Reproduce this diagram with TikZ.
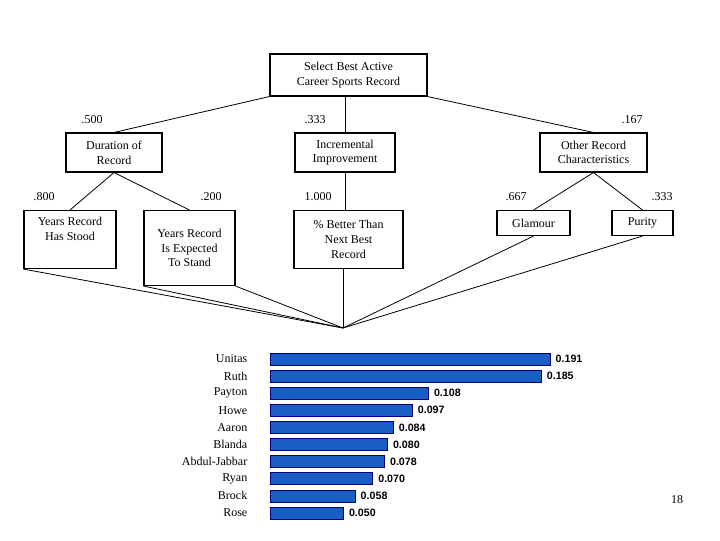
\documentclass[tikz,border=0pt]{standalone}
\usepackage{fontspec}
\setmainfont{Liberation Serif}
\newfontfamily\valfont{Liberation Sans}
\begin{document}
\begin{tikzpicture}[x=0.75pt,y=-0.75pt,
  box/.style={draw,thick,fill=white,inner sep=0pt,align=center,font=\fontsize{9}{11}\selectfont},
  wt/.style={font=\fontsize{9}{11}\selectfont},
  ln/.style={draw,semithick},
  bar/.style={draw=blue!50!black,fill={rgb,255:red,25;green,95;blue,195}},
  nm/.style={anchor=east,font=\fontsize{9}{11}\selectfont},
  val/.style={anchor=west,font=\valfont\bfseries\fontsize{8}{10}\selectfont}]
\useasboundingbox (0,0) rectangle (720,540);
\fill[white] (0,0) rectangle (720,540);
\node[box,minimum width=157*0.75pt,minimum height=42*0.75pt] (top) at (348.5,75) {Select Best Active\\Career Sports Record};
\node[box,minimum width=96*0.75pt,minimum height=39*0.75pt] (dur) at (114,152.5) {Duration of\\Record};
\node[box,minimum width=100*0.75pt,minimum height=39*0.75pt] (inc) at (345,152.5) {Incremental\\Improvement};
\node[box,minimum width=107*0.75pt,minimum height=39*0.75pt] (oth) at (593.5,152.5) {Other Record\\Characteristics};
\node[box,minimum width=92*0.75pt,minimum height=58*0.75pt,anchor=north] (ys) at (70,210) {\rule{0pt}{9pt}Years Record\\Has Stood\\[8pt]};
\node[box,minimum width=91*0.75pt,minimum height=75*0.75pt,anchor=north,align=center] (ye) at (189.5,210) {Years Record\\Is Expected\\To Stand};
\node[box,minimum width=109*0.75pt,minimum height=58*0.75pt,anchor=north] (pb) at (348.5,210) {\% Better Than\\Next Best\\Record};
\node[box,minimum width=73*0.75pt,minimum height=25*0.75pt,anchor=north] (gl) at (533.5,210) {Glamour};
\node[box,minimum width=61*0.75pt,minimum height=25*0.75pt,anchor=north] (pu) at (642.5,210) {Purity};
\coordinate (conv) at (343,328);
\draw[ln] (top.south west) -- (dur.north);
\draw[ln] (top.south) ++(-3.5,0) -- (inc.north);
\draw[ln] (top.south east) -- (oth.north);
\draw[ln] (dur.south) -- (ys.north);
\draw[ln] (dur.south) -- (ye.north);
\draw[ln] (inc.south) -- (inc.south |- pb.north);
\draw[ln] (oth.south) -- (gl.north);
\draw[ln] (oth.south) -- (pu.north);
\draw[ln] (ys.south west) -- (conv);
\draw[ln] (ye.south west) -- (conv);
\draw[ln] (ye.south east) -- (conv);
\draw[ln] (pb.south -| conv) -- (conv);
\draw[ln] (gl.south) -- (conv);
\draw[ln] (pu.south) -- (conv);
\node[wt] (w1) at (92,120) {.500};
\node[wt] (w2) at (315,120) {.333};
\node[wt] (w3) at (632,120) {.167};
\node[wt] (w4) at (44,197) {.800};
\node[wt] (w5) at (211,197) {.200};
\node[wt] (w6) at (318,197) {1.000};
\node[wt] (w7) at (516,197) {.667};
\node[wt] (w8) at (662,197) {.333};
\foreach \n/\v [count=\i] in {Unitas/0.191,Ruth/0.185,Payton/0.108,Howe/0.097,Aaron/0.084,Blanda/0.080,Abdul-Jabbar/0.078,Ryan/0.070,Brock/0.058,Rose/0.050}{
  \pgfmathsetmacro{\yy}{359+(\i-1)*17.1}
  \pgfmathsetmacro{\xx}{270+\v*1466}
  \draw[bar] (270,\yy-6) rectangle (\xx,\yy+6);
  \node[nm] (n\i) at (252,\yy) {\n};
  \node[val] (v\i) at (\xx+1,\yy) {\v};
}
\node[wt] (pg) at (677,500) {18};
\end{tikzpicture}
\end{document}
